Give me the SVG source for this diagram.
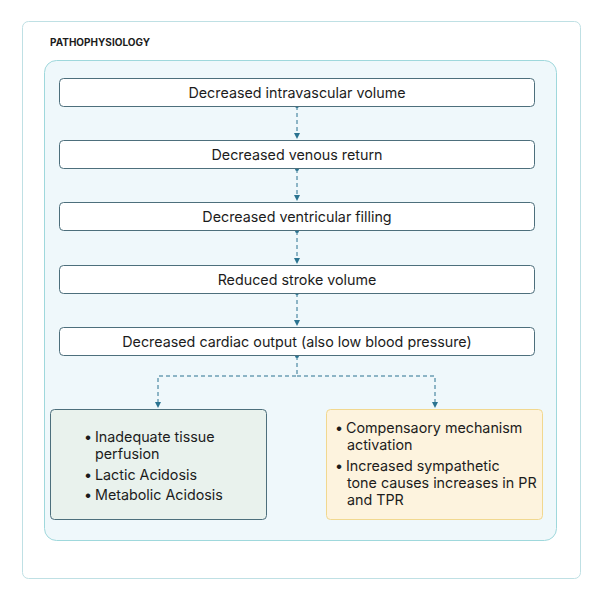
<svg xmlns="http://www.w3.org/2000/svg" width="602" height="602" viewBox="0 0 602 602">
<style>
text{font-family:Inter,"Liberation Sans",sans-serif;fill:#1c1c1c}
.node{fill:#fff;stroke:#4d6f7c;stroke-width:1}
.lbl{font-size:14.3px;text-anchor:middle}
.item{font-size:14.3px}
.con{fill:none;stroke:#2a7390;stroke-width:1;stroke-dasharray:4,3}
</style>
<defs>
<marker id="ah" markerWidth="8" markerHeight="8" refX="4" refY="4" orient="auto" markerUnits="userSpaceOnUse">
<path d="M1,1 L7,4 L1,7 Z" fill="#2a7390"/>
</marker>
<marker id="dot" markerWidth="6" markerHeight="6" refX="3" refY="3" markerUnits="userSpaceOnUse">
<circle cx="3" cy="3" r="2" fill="#2a7390"/>
</marker>
</defs>
<rect x="22.5" y="21.5" width="558" height="557" rx="6" fill="#fff" stroke="#bfe0e4"/>
<text x="50" y="46" font-size="10" font-weight="bold">PATHOPHYSIOLOGY</text>
<rect x="44.5" y="60.5" width="512" height="480" rx="12" fill="#eff8fb" stroke="#9fd8dc"/>
<g id="connectors">
<path class="con" d="M297,106 V136" marker-start="url(#dot)" marker-end="url(#ah)"/>
<path class="con" d="M297,169 V198" marker-start="url(#dot)" marker-end="url(#ah)"/>
<path class="con" d="M297,231 V261" marker-start="url(#dot)" marker-end="url(#ah)"/>
<path class="con" d="M297,293 V323" marker-start="url(#dot)" marker-end="url(#ah)"/>
<path class="con" d="M297,356 V376 H158 V405" marker-start="url(#dot)" marker-end="url(#ah)"/>
<path class="con" d="M297,376 H435 V405" marker-end="url(#ah)"/>
</g>
<g id="n1"><rect class="node" x="59.5" y="78.5" width="475" height="28" rx="4"/><text class="lbl" x="297" y="98">Decreased intravascular volume</text></g>
<g id="n2"><rect class="node" x="59.5" y="140.5" width="475" height="28" rx="4"/><text class="lbl" x="297" y="160">Decreased venous return</text></g>
<g id="n3"><rect class="node" x="59.5" y="202.5" width="475" height="28" rx="4"/><text class="lbl" x="297" y="222">Decreased ventricular filling</text></g>
<g id="n4"><rect class="node" x="59.5" y="265.5" width="475" height="28" rx="4"/><text class="lbl" x="297" y="285">Reduced stroke volume</text></g>
<g id="n5"><rect class="node" x="59.5" y="327.5" width="475" height="28" rx="4"/><text class="lbl" x="297" y="347">Decreased cardiac output (also low blood pressure)</text></g>
<g id="n6">
<rect x="50.5" y="409.5" width="216" height="110" rx="4" fill="#e9f2ed" stroke="#4d6f7c"/>
<text class="item" x="84" y="442">•</text><text class="item" x="95" y="442">Inadequate tissue</text>
<text class="item" x="95" y="459">perfusion</text>
<text class="item" x="84" y="480">•</text><text class="item" x="95" y="480">Lactic Acidosis</text>
<text class="item" x="84" y="500">•</text><text class="item" x="95" y="500">Metabolic Acidosis</text>
</g>
<g id="n7">
<rect x="326.5" y="409.5" width="216" height="110" rx="4" fill="#fdf3de" stroke="#f1d88f"/>
<text class="item" x="335" y="433">•</text><text class="item" x="346" y="433">Compensaory mechanism</text>
<text class="item" x="347" y="450">activation</text>
<text class="item" x="335" y="471">•</text><text class="item" x="346" y="471">Increased sympathetic</text>
<text class="item" x="347" y="488">tone causes increases in PR</text>
<text class="item" x="347" y="505">and TPR</text>
</g>
</svg>
